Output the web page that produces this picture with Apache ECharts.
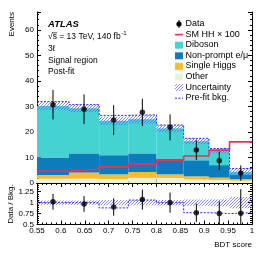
<!DOCTYPE html>
<html><head><meta charset="utf-8">
<script src="https://cdn.jsdelivr.net/npm/echarts@6/dist/echarts.min.js"></script>
<style>html,body{margin:0;padding:0;background:#fff}#c{width:266px;height:255px}</style>
</head><body><div id="c"></div>
<script>
// ---------- data ----------
const binEdges    = [0.55, 0.617, 0.68, 0.741, 0.80, 0.857, 0.91, 0.953, 1.0];
const other       = [1.7, 1.7, 1.6, 2.0, 2.0, 1.4, 1.2, 0.9];
const singleHiggs = [1.4, 2.4, 1.8, 2.3, 1.4, 1.2, 0.9, 0.6];
const nonPrompt   = [6.9, 7.5, 7.5, 7.3, 6.2, 6.3, 4.9, 1.9];
const diboson     = [20.2, 17.7, 13.5, 13.4, 11.8, 7.5, 5.6, 0.9];
const bkgUnc      = [1.6, 1.5, 1.6, 1.7, 1.4, 1.2, 1.0, 1.4];
const preFit      = [31.9, 30.7, 26.5, 26.7, 22.7, 17.5, 13.5, 5.7];
const smHH100     = [4.7, 5.4, 6.3, 7.4, 8.9, 10.6, 12.9, 16.1];
const dataVals    = [30.7, 28.9, 24.7, 27.7, 21.8, 12.9, 8.7, 3.9];
const dataErr     = [5.8, 5.8, 5.8, 5.3, 5.1, 3.9, 3.6, 3.0];
const ratioVals   = [1.02, 0.97, 0.90, 1.07, 1.00, 0.77, 0.75, 0.76];
const ratioErr    = [0.18, 0.18, 0.20, 0.23, 0.23, 0.21, 0.28, 0.55];
const ratioUnc    = [0.05, 0.05, 0.06, 0.06, 0.06, 0.07, 0.08, 0.13];
const ratioPreFit = [1.00, 1.00, 0.88, 1.06, 1.00, 0.77, 0.75, 0.77];
const xTicks      = ['0.55','0.6','0.65','0.7','0.75','0.8','0.85','0.9','0.95','1'];
const yTicksMain  = ['0','10','20','30','40','50','60'];
const yTicksRatio = ['0.5','0.75','1','1.25'];
const legendItems = ['Data','SM HH \u00d7 100','Diboson','Non-prompt e/\u03bc','Single Higgs','Other','Uncertainty','Pre-fit bkg.'];

// ---------- styles ----------
const FONT = '"Liberation Sans", Arial, Helvetica, sans-serif';
const C_DIB = '#45d2d2', C_NP = '#0b7dbd', C_SH = '#fcbb2a', C_OTH = '#e9f1df';
const C_RED = '#e8325c', C_PRE = '#2a2aff', C_HATCH = '#6060ff';

function hatchPattern(){
  const s = 3;
  const cv = document.createElement('canvas');
  cv.width = s; cv.height = s;
  const g = cv.getContext('2d');
  g.strokeStyle = C_HATCH; g.lineWidth = 0.75;
  g.beginPath();
  g.moveTo(0,s); g.lineTo(s,0);
  g.moveTo(-1,1); g.lineTo(1,-1);
  g.moveTo(s-1,s+1); g.lineTo(s+1,s-1);
  g.stroke();
  return {image: cv, repeat: 'repeat'};
}
const HATCH = hatchPattern();

// stacked rect data
function stackRects(layers){
  const out = layers.map(()=>[]);
  for (let i=0;i<binEdges.length-1;i++){
    let base = 0;
    layers.forEach((arr,k)=>{ out[k].push([binEdges[i], binEdges[i+1], base, base+arr[i]]); base += arr[i]; });
  }
  return out;
}
const [rOth, rSH, rNP, rDib] = stackRects([other, singleHiggs, nonPrompt, diboson]);
const total = binEdges.slice(0,-1).map((_,i)=>other[i]+singleHiggs[i]+nonPrompt[i]+diboson[i]);
const uncRects = total.map((t,i)=>[binEdges[i], binEdges[i+1], t-bkgUnc[i], t+bkgUnc[i]]);
const ratioUncRects = ratioUnc.map((u,i)=>[binEdges[i], binEdges[i+1], 1-u, 1+u]);
const centers = binEdges.slice(0,-1).map((e,i)=>(e+binEdges[i+1])/2);
function stepData(vals){ const d = vals.map((v,i)=>[binEdges[i], v]); d.push([binEdges[binEdges.length-1], vals[vals.length-1]]); return d; }

function rectSeries(data, fill, xi, yi, z){
  return {type:'custom', xAxisIndex:xi, yAxisIndex:yi, clip:true, z:z||2, silent:true,
    encode:{x:[0,1], y:[2,3]}, data: data,
    renderItem:(params, api)=>{
      const p0 = api.coord([api.value(0), api.value(3)]);
      const p1 = api.coord([api.value(1), api.value(2)]);
      return {type:'rect', shape:{x:p0[0], y:p0[1], width:p1[0]-p0[0], height:p1[1]-p0[1]}, style:{fill: fill, stroke: null}};
    }};
}
function errSeries(xs, ys, es, xi, yi){
  return {type:'custom', xAxisIndex:xi, yAxisIndex:yi, clip:true, z:6, silent:true,
    encode:{x:0, y:[1,2]}, data: xs.map((x,i)=>[x, ys[i]-es[i], ys[i]+es[i]]),
    renderItem:(params, api)=>{
      const a = api.coord([api.value(0), api.value(1)]);
      const b = api.coord([api.value(0), api.value(2)]);
      return {type:'line', shape:{x1:a[0], y1:a[1], x2:b[0], y2:b[1]}, style:{stroke:'#000', lineWidth:1}};
    }};
}

const L = 37, R = 252, T1 = 12, B1 = 183, T2 = 183, B2 = 224.5, W = 266, H = 255;
const axisLine = {show:true, lineStyle:{color:'#000', width:1}};
function xAx(grid, pos, labels){
  return {type:'value', gridIndex:grid, position:pos, min:0.55, max:1.0, interval:0.05,
    axisLine: axisLine, splitLine:{show:false},
    axisTick:{show:true, inside:true, length:4, lineStyle:{color:'#000'}},
    minorTick:{show:true, splitNumber:5, length:2, lineStyle:{color:'#000'}},
    axisLabel:{show:labels, color:'#000', fontFamily:FONT, fontSize:8, margin:2,
      formatter:(v)=>xTicks[Math.round((v-0.55)/0.05)] || ''}};
}
function yAx(grid, pos, labels, min, max, itv, ticks){
  return {type:'value', gridIndex:grid, position:pos, min:min, max:max, interval:itv,
    axisLine: axisLine, splitLine:{show:false},
    axisTick:{show:true, inside:true, length:4, lineStyle:{color:'#000'}},
    minorTick:{show:true, splitNumber:5, length:2, lineStyle:{color:'#000'}},
    axisLabel:{show:labels, color:'#000', fontFamily:FONT, fontSize:8, margin:3, showMaxLabel:false,
      formatter:(v)=>{ const k = Math.round((v-min)/itv); return (Math.abs(v-(min+k*itv))<1e-6 && ticks[k]) ? ticks[k] : ''; }}};
}

// legend graphics
const legX = 175, legTX = 185.5, legY0 = 24, legDY = 10.6;
const leg = [];
legendItems.forEach((name,i)=>{
  const y = legY0 + i*legDY;
  leg.push({type:'text', left:legTX, top:y-5, style:{text:name, font:'9px '+FONT, fill:'#000'}});
  const cx = legX+4;
  if (i===0){
    leg.push({type:'line', shape:{x1:cx, y1:y-4, x2:cx, y2:y+4}, style:{stroke:'#000', lineWidth:1}});
    leg.push({type:'circle', shape:{cx:cx, cy:y, r:2.6}, style:{fill:'#000'}});
  } else if (i===1){
    leg.push({type:'line', shape:{x1:legX, y1:y, x2:legX+8, y2:y}, style:{stroke:C_RED, lineWidth:1.6}});
  } else if (i===7){
    leg.push({type:'line', shape:{x1:legX, y1:y, x2:legX+8, y2:y}, style:{stroke:C_PRE, lineWidth:1, lineDash:[2,1.5]}});
  } else {
    const fills = {2:C_DIB, 3:C_NP, 4:C_SH, 5:C_OTH, 6:HATCH};
    leg.push({type:'rect', shape:{x:legX, y:y-3.5, width:8, height:7}, style:{fill:fills[i]}});
  }
});

const texts = [
  {type:'text', left:48, top:19, style:{text:'ATLAS', font:'italic bold 9.5px '+FONT, fill:'#000'}},
  {type:'text', left:48, top:32, style:{text:'\u221as = 13 TeV, 140 fb', font:'8.5px '+FONT, fill:'#000'}},
  {type:'line', shape:{x1:52.2, y1:32.8, x2:57, y2:32.8}, style:{stroke:'#000', lineWidth:0.7}},
  {type:'text', left:48, top:44, style:{text:'3\u2113', font:'8.5px '+FONT, fill:'#000'}},
  {type:'text', left:48, top:56.5, style:{text:'Signal region', font:'8.5px '+FONT, fill:'#000'}},
  {type:'text', left:48, top:67.5, style:{text:'Post-fit', font:'8.5px '+FONT, fill:'#000'}},
  {type:'text', x:12, y:T1, rotation:Math.PI/2, style:{text:'Events', font:'8px '+FONT, fill:'#000', align:'right', verticalAlign:'middle'}},
  {type:'text', x:10.5, y:204, rotation:Math.PI/2, style:{text:'Data / Bkg.', font:'8px '+FONT, fill:'#000', align:'center', verticalAlign:'middle'}},
  {type:'text', x:R, y:245, style:{text:'BDT score', font:'8px '+FONT, fill:'#000', align:'right', verticalAlign:'middle'}}
];
// superscript -1 after fb
(function(){
  const cv = document.createElement('canvas').getContext('2d');
  cv.font = '8.5px '+FONT;
  const w = cv.measureText('\u221as = 13 TeV, 140 fb').width;
  texts.push({type:'text', left:48+w+0.5, top:30, style:{text:'-1', font:'6px '+FONT, fill:'#000'}});
})();

const chart = echarts.init(document.getElementById('c'), null, {renderer:'canvas'});
chart.setOption({
  animation:false, backgroundColor:'#fff',
  grid:[
    {left:L, top:T1, width:R-L, height:B1-T1, outerBoundsMode:'none', containLabel:false},
    {left:L, top:T2, width:R-L, height:B2-T2, outerBoundsMode:'none', containLabel:false}
  ],
  xAxis:[ xAx(0,'bottom',false), xAx(0,'top',false), xAx(1,'bottom',true), xAx(1,'top',false) ],
  yAxis:[ yAx(0,'left',true,0,67,10,yTicksMain), yAx(0,'right',false,0,67,10,yTicksMain),
          yAx(1,'left',true,0.5,1.45,0.25,yTicksRatio), yAx(1,'right',false,0.5,1.45,0.25,yTicksRatio) ],
  series:[
    rectSeries(rOth, C_OTH, 0, 0, 2),
    rectSeries(rSH, C_SH, 0, 0, 2),
    rectSeries(rNP, C_NP, 0, 0, 2),
    rectSeries(rDib, C_DIB, 0, 0, 2),
    rectSeries(uncRects, HATCH, 0, 0, 3),
    {type:'line', xAxisIndex:0, yAxisIndex:0, step:'end', symbol:'none', z:4, silent:true,
      data: stepData(preFit), lineStyle:{color:C_PRE, width:1, type:[2,1.5]}},
    {type:'line', xAxisIndex:0, yAxisIndex:0, step:'end', symbol:'none', z:5, silent:true,
      data: stepData(smHH100), lineStyle:{color:C_RED, width:1.6}},
    errSeries(centers, dataVals, dataErr, 0, 0),
    {type:'scatter', xAxisIndex:0, yAxisIndex:0, symbol:'circle', symbolSize:5.5, z:7, silent:true,
      data: centers.map((x,i)=>[x, dataVals[i]]), itemStyle:{color:'#000'}},
    rectSeries(ratioUncRects, HATCH, 2, 2, 3),
    {type:'line', xAxisIndex:2, yAxisIndex:2, step:'end', symbol:'none', z:4, silent:true,
      data: stepData(ratioPreFit), lineStyle:{color:C_PRE, width:1, type:[2,1.5]}},
    errSeries(centers, ratioVals, ratioErr, 2, 2),
    {type:'scatter', xAxisIndex:2, yAxisIndex:2, symbol:'circle', symbolSize:5.5, z:7, silent:true,
      data: centers.map((x,i)=>[x, ratioVals[i]]), itemStyle:{color:'#000'}}
  ],
  graphic: texts.concat(leg)
});
</script></body></html>
